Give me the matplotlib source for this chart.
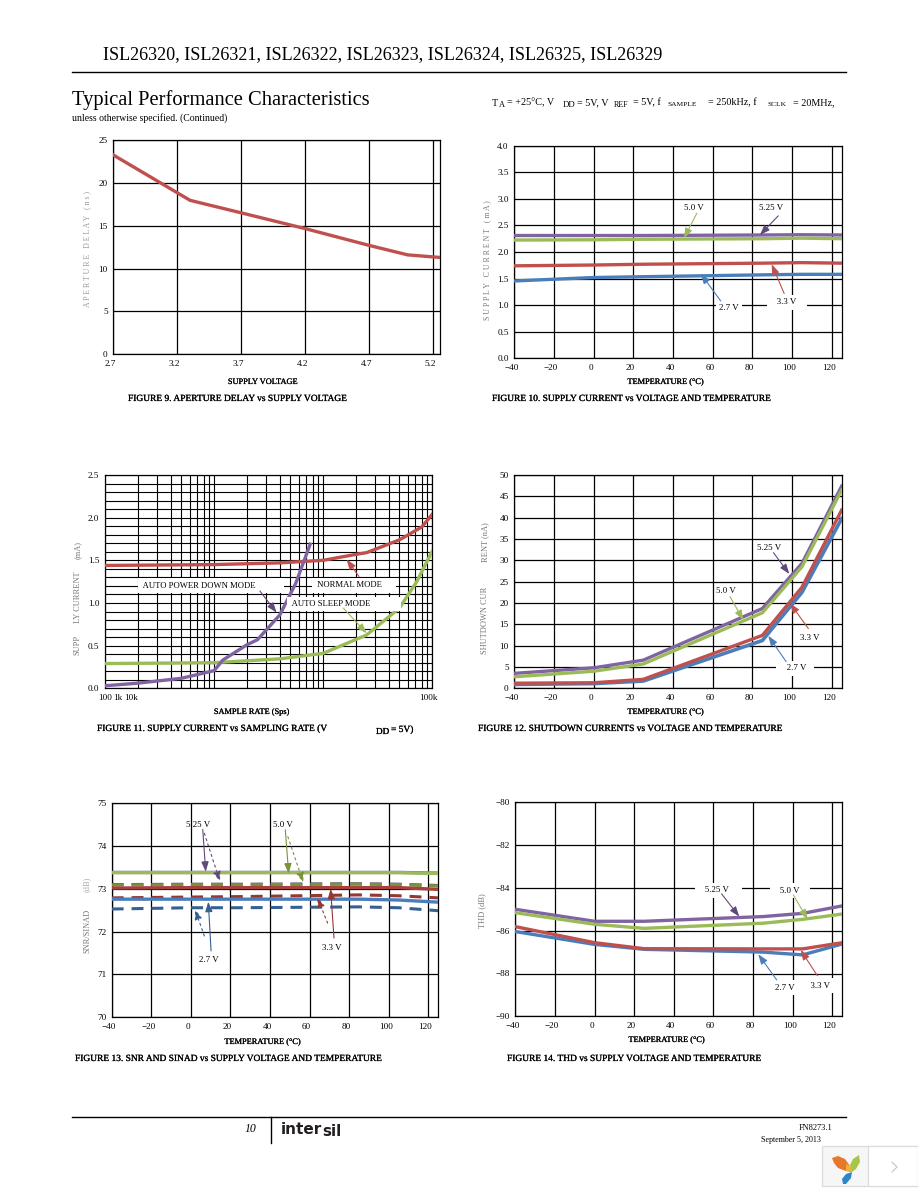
import matplotlib
matplotlib.use('Agg')
import matplotlib.pyplot as plt
import matplotlib.patheffects as pe
from matplotlib.patches import Polygon, Rectangle
from matplotlib.transforms import ScaledTranslation

plt.rcParams['font.family'] = ['Liberation Serif', 'DejaVu Serif']
plt.rcParams['axes.linewidth'] = 0.9

RED = '#c0504d'
BLUE = '#4a7ebb'
GREEN = '#9bbb59'
PURPLE = '#8064a2'
DRED = '#953735'
DBLUE = '#376092'
DGREEN = '#77933c'
DPURPLE = '#604a7b'

# figure 9
v_supply = [2.7, 3.3, 3.7, 4.2, 4.7, 5.0, 5.25]
delay_ns = [23.25, 17.96, 16.5, 14.66, 12.7, 11.6, 11.3]

temps = [-40, 0, 25, 85, 105, 125]

# figure 10
idd_27 = [1.455, 1.52, 1.535, 1.57, 1.58, 1.58]
idd_33 = [1.74, 1.755, 1.77, 1.79, 1.80, 1.79]
idd_50 = [2.225, 2.23, 2.24, 2.25, 2.26, 2.25]
idd_525 = [2.31, 2.31, 2.31, 2.32, 2.325, 2.32]

# figure 11
f_normal = [100, 1000, 4000, 10000, 20000, 25000, 50000, 80000, 100000]
i_normal = [1.44, 1.45, 1.47, 1.50, 1.57, 1.59, 1.74, 1.89, 2.04]
f_sleep = [100, 1000, 4000, 10000, 25000, 50000, 72000, 100000]
i_sleep = [0.29, 0.30, 0.345, 0.41, 0.625, 0.94, 1.25, 1.61]
f_apd = [100, 200, 500, 1000, 1200, 2000, 2500, 4000, 5600, 7600]
i_apd = [0.03, 0.06, 0.117, 0.207, 0.33, 0.51, 0.57, 0.86, 1.23, 1.69]

# figure 12
ishdn_525 = [3.5, 4.8, 6.6, 18.7, 29.3, 47.4]
ishdn_50 = [2.7, 4.0, 5.7, 17.7, 28.5, 46.5]
ishdn_33 = [1.2, 1.3, 2.1, 12.4, 23.7, 41.8]
ishdn_27 = [0.9, 1.1, 1.7, 11.2, 22.5, 39.8]

# figure 13
snr_525 = [73.385, 73.385, 73.385, 73.385, 73.385, 73.37]
snr_50 = [73.38, 73.38, 73.38, 73.38, 73.38, 73.36]
snr_33 = [73.02, 73.03, 73.03, 73.03, 73.03, 72.99]
snr_27 = [72.76, 72.76, 72.76, 72.76, 72.74, 72.69]
sinad_525 = [73.10, 73.11, 73.11, 73.12, 73.11, 73.08]
sinad_50 = [73.09, 73.10, 73.10, 73.11, 73.10, 73.07]
sinad_33 = [72.79, 72.81, 72.82, 72.86, 72.84, 72.79]
sinad_27 = [72.53, 72.56, 72.56, 72.58, 72.56, 72.49]

# figure 14
thd_525 = [-85.0, -85.56, -85.56, -85.34, -85.19, -84.84]
thd_50 = [-85.16, -85.7, -85.89, -85.65, -85.47, -85.22]
thd_33 = [-85.81, -86.56, -86.84, -86.85, -86.85, -86.56]
thd_27 = [-86.04, -86.64, -86.87, -87.0, -87.13, -86.62]

temp_ticks = [-40, -20, 0, 20, 40, 60, 80, 100, 120]

fig = plt.figure(figsize=(9.18, 11.88), dpi=100, facecolor='white')

# page overlay in pixel coords, for everything that is not a chart
page = fig.add_axes([0, 0, 1, 1])
page.set_xlim(0, 918)
page.set_ylim(1188, 0)
page.axis('off')

heavy = [pe.withStroke(linewidth=0.15, foreground='black')]


def make_axes(left, top, right, bottom):
    ax = fig.add_axes([left / 918, 1 - bottom / 1188, (right - left) / 918, (bottom - top) / 1188])
    ax.grid(True, color='black', lw=0.9)
    ax.set_axisbelow(True)
    ax.tick_params(length=0, labelsize=6.6, pad=4)
    return ax


def shift_xlabels(ax, px=-3):
    offset = ScaledTranslation(px / 100, 0, fig.dpi_scale_trans)
    for lbl in ax.get_xticklabels():
        lbl.set_transform(lbl.get_transform() + offset)


def note(ax, label, pos, arrows, box=False, size=6.4):
    # arrows is a list of (tail, tip, color, linestyle)
    for tail, tip, color, ls in arrows:
        ax.annotate('', xy=tip, xytext=tail, zorder=6,
                    arrowprops=dict(arrowstyle='-|>,head_width=0.22,head_length=0.6', color=color,
                                    lw=0.8, ls=ls, shrinkA=0, shrinkB=0))
    if label:
        bbox = dict(fc='white', ec='none', pad=2.5) if box else None
        ax.text(pos[0], pos[1], label, fontsize=size, ha='center', va='center', zorder=5, bbox=bbox)


def ptext(x, y, s, size=6.8, bold=False, **kw):
    kw.setdefault('va', 'center')
    t = page.text(x, y, s, fontsize=size, **kw)
    if bold:
        t.set_path_effects(heavy)


# figure 9
ax9 = make_axes(113.3, 140, 440.3, 354.3)
ax9.plot(v_supply, delay_ns, color=RED, lw=2.4, zorder=4, solid_joinstyle='miter')
ax9.set_xlim(2.7, 5.255)
ax9.set_ylim(0, 25)
ax9.set_xticks([2.7, 3.2, 3.7, 4.2, 4.7, 5.2])
ax9.set_xticklabels(['2.7', '3.2', '3.7', '4.2', '4.7', '5.2'])
ax9.set_yticks([0, 5, 10, 15, 20, 25])
shift_xlabels(ax9)

# figure 10
ax10 = make_axes(514.3, 145.7, 841.7, 358.3)
for vals, c in [(idd_27, BLUE), (idd_33, RED), (idd_525, PURPLE), (idd_50, GREEN)]:
    ax10.plot(temps, vals, color=c, lw=2.4, zorder=4)
ax10.set_xlim(-40, 125)
ax10.set_ylim(0, 4)
ax10.set_xticks(temp_ticks)
ax10.set_yticks([0, 0.5, 1, 1.5, 2, 2.5, 3, 3.5, 4])
ax10.set_yticklabels(['0.0', '0.5', '1.0', '1.5', '2.0', '2.5', '3.0', '3.5', '4.0'])
shift_xlabels(ax10)
note(ax10, '5.0 V', (50.7, 2.83), [((52, 2.73), (45.5, 2.26), GREEN, '-')])
note(ax10, '5.25 V', (89.4, 2.83), [((93, 2.68), (83.8, 2.32), DPURPLE, '-')])
note(ax10, '2.7 V', (68.2, 0.95), [((64, 1.08), (54, 1.59), BLUE, '-')], box=True)
note(ax10, '   3.3 V   ', (97.3, 1.05), [((96, 1.22), (89.7, 1.77), RED, '-')], box=True)

# figure 11
ax11 = make_axes(105, 475, 432.3, 688.3)
ax11.set_xscale('log')
ax11.plot(f_normal, i_normal, color=RED, lw=2.4, zorder=4)
ax11.plot(f_sleep, i_sleep, color=GREEN, lw=2.4, zorder=4)
ax11.plot(f_apd, i_apd, color=PURPLE, lw=2.4, zorder=4)
ax11.set_xlim(100, 100000)
ax11.set_ylim(0, 2.5)
ax11.set_yticks([0, 0.5, 1, 1.5, 2, 2.5])
ax11.set_yticklabels(['0.0', '0.5', '1.0', '1.5', '2.0', '2.5'])
ax11.set_yticks([0.1 * i for i in range(26)], minor=True)
ax11.grid(True, which='both', color='black', lw=0.8)
ax11.tick_params(which='both', length=0, labelbottom=False)
note(ax11, ' AUTO POWER DOWN MODE' + ' ' * 12, (937, 1.20), [((2630, 1.14), (3740, 0.887), DPURPLE, '-')], box=True, size=6.2)
note(ax11, ' NORMAL MODE' + ' ' * 5, (19100, 1.21), [((21300, 1.31), (16400, 1.51), RED, '-')], box=True, size=6.2)
note(ax11, ' AUTO SLEEP MODE' + ' ' * 13, (15500, 0.988), [((15300, 0.94), (25000, 0.645), GREEN, '-')], box=True, size=6.2)
for x, s in [(105, '100'), (118, '1k'), (131, '10k'), (428, '100k')]:
    ptext(x, 698, s, size=6.6, ha='center')

# figure 12
ax12 = make_axes(514.3, 475, 841.7, 688.3)
for vals, c, w in [(ishdn_27, BLUE, 2.6), (ishdn_33, RED, 2.4), (ishdn_525, PURPLE, 2.4), (ishdn_50, GREEN, 2.4)]:
    ax12.plot(temps, vals, color=c, lw=w, zorder=4)
ax12.set_xlim(-40, 125)
ax12.set_ylim(0, 50)
ax12.set_xticks(temp_ticks)
ax12.set_yticks(range(0, 51, 5))
shift_xlabels(ax12)
note(ax12, '5.25 V', (88.4, 33), [((90.6, 31.8), (98.6, 26.8), DPURPLE, '-')])
note(ax12, '5.0 V', (66.5, 22.7), [((68.7, 21.5), (75.4, 16), GREEN, '-')])
note(ax12, '3.3 V', (108.7, 11.9), [((108.2, 14), (99, 19.9), RED, '-')])
note(ax12, '   2.7 V  ', (101.5, 4.7), [((97, 6.25), (88, 12.3), BLUE, '-')], box=True)

# figure 13
ax13 = make_axes(111.7, 803.3, 438.3, 1017.3)
dash = (0, (3.9, 2.6))
for vals, c in [(sinad_525, DPURPLE), (sinad_50, DGREEN), (sinad_33, DRED), (sinad_27, DBLUE)]:
    ax13.plot(temps, vals, color=c, lw=2.2, ls=dash, zorder=4)
for vals, c in [(snr_27, BLUE), (snr_33, '#a8403d'), (snr_525, PURPLE), (snr_50, GREEN)]:
    ax13.plot(temps, vals, color=c, lw=2.4, zorder=4)
ax13.set_xlim(-40, 125)
ax13.set_ylim(70, 75)
ax13.set_xticks(temp_ticks)
ax13.set_yticks([70, 71, 72, 73, 74, 75])
shift_xlabels(ax13)
note(ax13, '5.25 V', (3.4, 74.49), [((6, 74.39), (7.5, 73.4), DPURPLE, '-'),
                                    ((6.8, 74.3), (14.7, 73.17), DPURPLE, (0, (2, 3)))])
note(ax13, '5.0 V', (46.4, 74.49), [((47.7, 74.38), (49.4, 73.36), DGREEN, '-'),
                                    ((49, 74.22), (56.8, 73.15), DGREEN, (0, (2, 3)))])
note(ax13, '2.7 V', (9.2, 71.34), [((10.2, 71.55), (8.8, 72.7), DBLUE, '-'),
                                   ((6.8, 71.9), (2.1, 72.52), DBLUE, (0, (2, 3)))])
note(ax13, '3.3 V', (71.1, 71.63), [((72.3, 71.85), (70.6, 73.0), DRED, '-'),
                                    ((69.1, 72.2), (63.9, 72.8), DRED, (0, (2, 3)))])

# figure 14
ax14 = make_axes(515.3, 802.3, 842.3, 1016.3)
for vals, c in [(thd_27, BLUE), (thd_33, RED), (thd_525, PURPLE), (thd_50, GREEN)]:
    ax14.plot(temps, vals, color=c, lw=2.4, zorder=4)
ax14.set_xlim(-40, 125)
ax14.set_ylim(-90, -80)
ax14.set_xticks(temp_ticks)
ax14.set_yticks([-90, -88, -86, -84, -82, -80])
shift_xlabels(ax14)
note(ax14, '   5.25 V    ', (62.4, -84.1), [((64.1, -84.28), (73, -85.34), DPURPLE, '-')], box=True)
note(ax14, '   5.0 V   ', (98.6, -84.14), [((100.3, -84.33), (107.5, -85.47), GREEN, '-')], box=True)
note(ax14, '2.7 V', (96, -88.66), [((91.9, -88.3), (82.6, -87.1), BLUE, '-')], box=True)
note(ax14, '  3.3 V  ', (113.7, -88.57), [((112.4, -88.1), (104, -86.9), RED, '-')], box=True)

# header
ptext(103, 55, 'ISL26320, ISL26321, ISL26322, ISL26323, ISL26324, ISL26325, ISL26329', size=13.05)
page.plot([72, 846], [72, 72], color='black', lw=1)
ptext(72, 100, 'Typical Performance Characteristics', size=14.8)
ptext(72, 118, 'unless otherwise specified. (Continued)', size=7.05)
for x, y, s, size in [(492, 103, 'T', 7.3), (499, 105, 'A', 6), (507, 103, '= +25°C, V', 7.3),
                      (563, 105, 'DD', 6.4), (577, 103, '= 5V, V', 7.3), (614, 105, 'REF', 5.8),
                      (633, 103, '= 5V, f', 7.3), (668, 105, 'SAMPLE', 5.4), (708, 103, '= 250kHz, f', 7.3),
                      (768, 105, 'SCLK', 5.4), (793, 103, '= 20MHz,', 7.3)]:
    ptext(x, y, s, size=size)

# captions
ptext(128, 399, 'FIGURE 9. APERTURE DELAY vs SUPPLY VOLTAGE', bold=True)
ptext(492, 399, 'FIGURE 10. SUPPLY CURRENT vs VOLTAGE AND TEMPERATURE', bold=True)
ptext(97, 729, 'FIGURE 11. SUPPLY CURRENT vs SAMPLING RATE (V', bold=True)
ptext(376, 732, 'DD', size=6.6, bold=True)
ptext(391, 730, '= 5V)', size=6.8, bold=True)
ptext(478, 729, 'FIGURE 12. SHUTDOWN CURRENTS vs VOLTAGE AND TEMPERATURE', bold=True)
ptext(75, 1059, 'FIGURE 13. SNR AND SINAD vs SUPPLY VOLTAGE AND TEMPERATURE', bold=True)
ptext(507, 1059, 'FIGURE 14. THD vs SUPPLY VOLTAGE AND TEMPERATURE', bold=True)

# x axis titles
ptext(263, 382, 'SUPPLY VOLTAGE', size=6, bold=True, ha='center')
ptext(666, 382, 'TEMPERATURE (°C)', size=6, bold=True, ha='center')
ptext(252, 712, 'SAMPLE RATE (Sps)', size=6, bold=True, ha='center')
ptext(666, 712, 'TEMPERATURE (°C)', size=6, bold=True, ha='center')
ptext(263, 1042, 'TEMPERATURE (°C)', size=6, bold=True, ha='center')
ptext(667, 1040, 'TEMPERATURE (°C)', size=6, bold=True, ha='center')

# y axis titles, faint and widely spaced
GREY = '#777777'
for x, y, s, c, size in [(87, 249, 'A P E R T U R E   D E L A Y   ( n s )', '#999999', 5.6),
                         (487, 260, 'S U P P L Y   C U R R E N T   ( m A )', GREY, 5.6),
                         (78, 645, 'SUPP', GREY, 6), (78, 597, 'LY CURRENT', GREY, 6), (78, 550, '(mA)', GREY, 6),
                         (485, 620, 'SHUTDOWN CUR', GREY, 6), (485, 542, 'RENT (nA)', GREY, 6),
                         (87, 931, 'SNR/SINAD', GREY, 6), (87, 884, '(dB)', '#aaaaaa', 6),
                         (482, 911, 'THD (dB)', GREY, 6)]:
    ptext(x, y, s, size=size, rotation=90, ha='center', color=c)

# footer
page.plot([72, 846], [1117, 1117], color='black', lw=1)
page.plot([270.5, 270.5], [1117, 1143], color='black', lw=1)
ptext(250, 1129, '10', size=8.5, style='italic', ha='center')
logo_font = ['DejaVu Sans']
page.text(281, 1129, 'inter', fontsize=11, fontweight='bold', va='center', color='#231f20', family=logo_font)
page.text(322, 1131, 'sil', fontsize=11, fontweight='bold', va='center', color='#231f20', family=logo_font)
ptext(832, 1128, 'FN8273.1', size=6, ha='right')
ptext(821, 1140, 'September 5, 2013', size=5.8, ha='right')

# corner widget
page.add_patch(Rectangle((822, 1146), 96, 40, fc='#f6f6f6', ec='#dcdcdc', lw=0.9))
page.add_patch(Rectangle((868, 1146), 50, 40, fc='white', ec='#dcdcdc', lw=0.9))
page.add_patch(Polygon([(832, 1158), (838, 1156), (845, 1159), (850, 1166), (852, 1172),
                        (846, 1171), (838, 1168), (834, 1163)], fc='#e8762b', ec='none'))
page.add_patch(Polygon([(846, 1164), (850, 1166), (852, 1172), (846, 1171)], fc='#f2b233', ec='none'))
page.add_patch(Polygon([(859, 1155), (860, 1162), (856, 1169), (852, 1172), (850, 1165), (853, 1159)],
                       fc='#a8c545', ec='none'))
page.add_patch(Polygon([(852, 1172), (851, 1178), (846, 1184), (843, 1184), (842, 1179), (846, 1174)],
                       fc='#2e86c8', ec='none'))
page.plot([892, 897, 892], [1162, 1167, 1172], color='#c4c4c4', lw=0.8)

fig.savefig('out.png', dpi=100)
